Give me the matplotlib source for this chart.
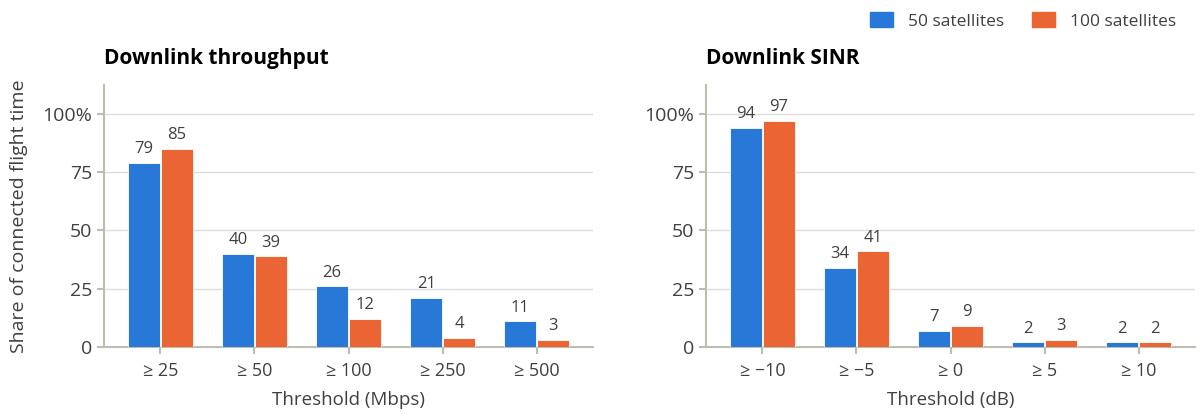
import matplotlib
matplotlib.use("Agg")
import matplotlib.pyplot as plt
import numpy as np

plt.rcParams['font.family'] = ['Open Sans', 'DejaVu Sans']

# data
series_names = ["50 satellites", "100 satellites"]
tput_labels = ["\u2265 25", "\u2265 50", "\u2265 100", "\u2265 250", "\u2265 500"]
tput_50 = [79, 40, 26, 21, 11]
tput_100 = [85, 39, 12, 4, 3]
sinr_labels = ["\u2265 \u221210", "\u2265 \u22125", "\u2265 0", "\u2265 5", "\u2265 10"]
sinr_50 = [94, 34, 7, 2, 2]
sinr_100 = [97, 41, 9, 3, 2]

BLUE = "#2878D8"
ORANGE = "#EB6534"
AXIS = "#BDBDB2"
GRID = "#DCDCDC"
TXT = "#404040"

fig = plt.figure(figsize=(12, 4.15), dpi=100)
ax1 = fig.add_axes([104/1200, 1 - 347/415, 489/1200, 262/415])
ax2 = fig.add_axes([706/1200, 1 - 347/415, 489/1200, 262/415])

w = 0.34
off = 0.175


def draw_panel(ax, title, labels, v50, v100, xlabel):
    x = np.arange(len(labels))
    b1 = ax.bar(x - off, v50, width=w, color=BLUE, edgecolor="white", linewidth=0.6, zorder=3)
    b2 = ax.bar(x + off, v100, width=w, color=ORANGE, edgecolor="white", linewidth=0.6, zorder=3)
    for bars, vals in ((b1, v50), (b2, v100)):
        for r, v in zip(bars, vals):
            ax.annotate(str(v), (r.get_x() + r.get_width() / 2, v), xytext=(0, 4),
                        textcoords="offset points", ha="center", va="bottom",
                        fontsize=12, color=TXT)
    ax.set_xlim(-0.6, len(labels) - 0.4)
    ax.set_ylim(0, 112.4)
    ax.set_yticks([0, 25, 50, 75, 100])
    ax.set_yticklabels(["0", "25", "50", "75", "100%"])
    ax.set_xticks(x)
    ax.set_xticklabels(labels)
    ax.grid(axis="y", color=GRID, linewidth=1, zorder=0)
    for s in ("top", "right"):
        ax.spines[s].set_visible(False)
    for s in ("left", "bottom"):
        ax.spines[s].set_color(AXIS)
        ax.spines[s].set_linewidth(1.5)
    ax.tick_params(axis="both", colors=AXIS, labelcolor=TXT, labelsize=13, width=1.5, length=5)
    ax.tick_params(axis="x", pad=6)
    ax.tick_params(axis="y", labelsize=14)
    ax.set_xlabel(xlabel, fontsize=13.5, color=TXT, labelpad=8)
    ax.set_title(title, loc="left", x=0, fontsize=15, fontweight="bold", color="black", pad=15)


draw_panel(ax1, "Downlink throughput", tput_labels, tput_50, tput_100, "Threshold (Mbps)")
draw_panel(ax2, "Downlink SINR", sinr_labels, sinr_50, sinr_100, "Threshold (dB)")
ax1.set_ylabel("Share of connected flight time", fontsize=14, color=TXT, labelpad=10)

handles = [plt.Rectangle((0, 0), 1, 1, color=BLUE), plt.Rectangle((0, 0), 1, 1, color=ORANGE)]
fig.legend(handles, series_names, loc="upper right", bbox_to_anchor=(0.993, 1.008), ncol=2,
           frameon=False, fontsize=12.5, labelcolor=TXT, handlelength=1.35, handleheight=0.95,
           columnspacing=1.6, handletextpad=0.85)

fig.savefig("out.png", dpi=100, facecolor="white")
